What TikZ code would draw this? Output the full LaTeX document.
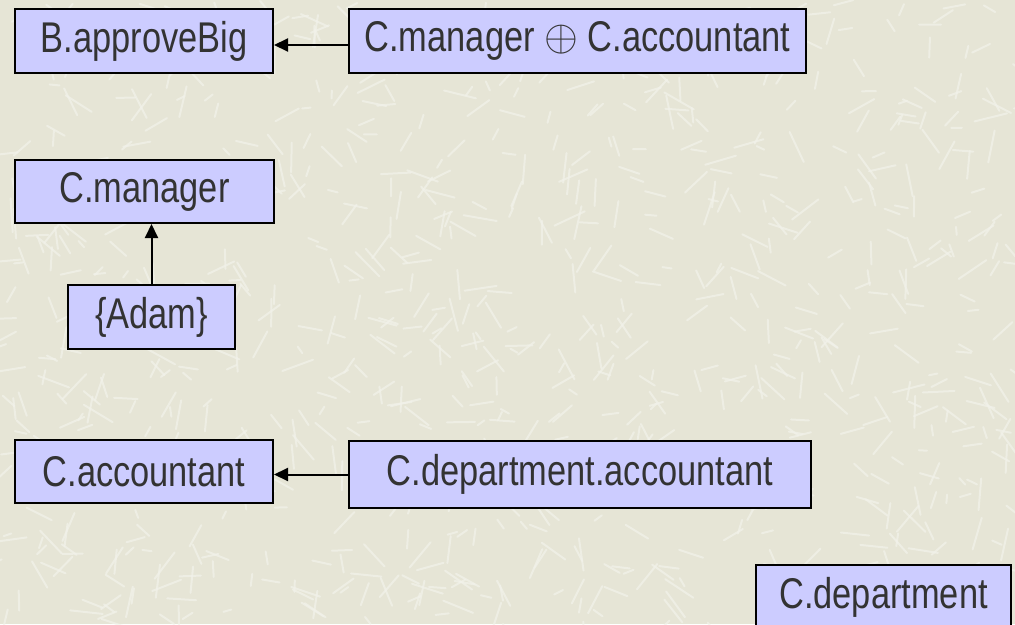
\documentclass[tikz,border=0pt]{standalone}
\usepackage{fontspec}
\setmainfont{Liberation Sans}[FakeStretch=0.8]
\usetikzlibrary{arrows.meta}
\definecolor{bg}{HTML}{E6E5D6}
\definecolor{streak}{HTML}{F2F2EA}
\definecolor{boxfill}{HTML}{CCCCFF}
\definecolor{txt}{HTML}{333333}
\begin{document}
\begin{tikzpicture}[x=1pt,y=-1pt,
  box/.style={draw=black, line width=2pt, fill=boxfill, text=txt, inner sep=0pt,
    font=\fontsize{43}{50}\selectfont, anchor=north west},
  arr/.style={line width=2pt, -{Triangle[length=14pt,width=13pt]}},
  texture/.style={draw=streak, line width=2pt, opacity=0.7, line cap=round}]
\useasboundingbox (0,0) rectangle (1015,624);
\fill[bg] (0,0) rectangle (1015,624);
\begin{scope}
\clip (0,0) rectangle (1015,624);
\pgfmathsetseed{4242}
\foreach \i in {1,...,900}{
  \pgfmathsetmacro{\px}{rnd*1015}
  \pgfmathsetmacro{\py}{rnd*624}
  \pgfmathsetmacro{\ang}{rnd*180}
  \pgfmathsetmacro{\len}{8+rnd*26}
  \draw[texture] (\px,\py) -- ++(\ang:\len);
}
\end{scope}
\node[box, minimum width=258pt, minimum height=64pt] (approve) at (14,8) {B.approveBig};
\node[box, minimum width=457pt, minimum height=64pt] (combo) at (348,8) {C.manager \raisebox{1pt}{\scalebox{1.75}{$\oplus$}} C.accountant};
\node[box, minimum width=259pt, minimum height=63pt] (mgr) at (14,159) {C.manager};
\node[box, minimum width=167pt, minimum height=64pt] (adam) at (67,284) {\{Adam\}};
\node[box, minimum width=258pt, minimum height=63pt] (acct) at (14,439) {C.accountant};
\node[box, minimum width=462pt, minimum height=67pt] (dacct) at (348,440) {C.department.accountant};
\node[box, minimum width=255pt, minimum height=64pt] (dept) at (755,564) {C.department};
\draw[arr] ([yshift=-4pt]combo.west) -- ([yshift=-4pt]approve.east);
\draw[arr] (adam.north) -- (adam.north |- mgr.south);
\draw[arr] (dacct.west) -- (dacct.west -| acct.east);
\end{tikzpicture}
\end{document}
